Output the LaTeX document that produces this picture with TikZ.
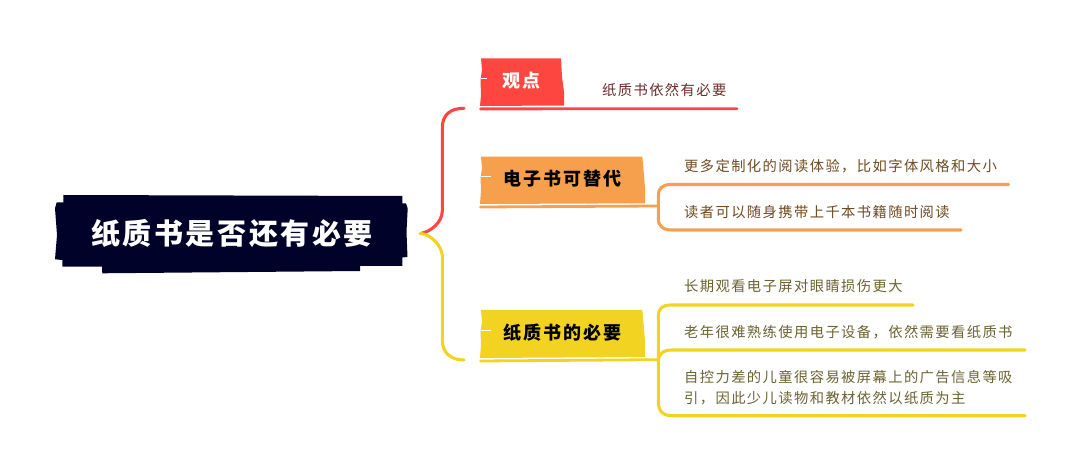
\documentclass[tikz,border=0pt]{standalone}
\usepackage{fontspec}
\setmainfont{Noto Sans CJK SC}
\definecolor{cred}{HTML}{FD4640}
\definecolor{corange}{HTML}{F6A04D}
\definecolor{cyellow}{HTML}{F3D321}
\definecolor{cnavy}{HTML}{000229}
\definecolor{tred}{HTML}{6E2B2B}
\definecolor{torange}{HTML}{6F4A20}
\definecolor{tyellow}{HTML}{6B6232}
\tikzset{
  x=1pt,y=-1pt,
  stroke/.style={line width=3.1pt,line cap=round,line join=round},
  rootlabel/.style={inner sep=0pt,text=white,font=\fontsize{29}{29}\selectfont\bfseries\addfontfeature{LetterSpace=9}},
  topiclabel/.style={inner sep=0pt,font=\fontsize{18}{18}\selectfont\bfseries\addfontfeature{LetterSpace=10.5}},
  leaflabel/.style={inner sep=0pt,anchor=west,font=\fontsize{14.3}{21}\selectfont\addfontfeature{LetterSpace=9.8},align=left},
  nick/.style={white,line width=0.7pt},
}
\begin{document}
\begin{tikzpicture}
\useasboundingbox (0,0) rectangle (1080,473);
% connectors
\coordinate (hubR) at (421,233.5);
\coordinate (hubY) at (420,233.5);
\coordinate (redEnd) at (464,108.3);
\coordinate (yelEnd) at (464,360);
\draw[stroke,cred] (hubR) .. controls (432,231) and (442,222) .. (442.3,211) -- (442.3,128) .. controls (442.3,115) and (450,108.3) .. (redEnd);
\draw[stroke,cyellow] (hubY) .. controls (431,234) and (442,246) .. (442.3,256) -- (442.3,340) .. controls (442.3,352) and (450,360) .. (yelEnd);
% root shape
\fill[cnavy] (63.3,195) -- (402.3,196) -- (402.3,203.3) -- (406,203.3) -- (407.7,208.5) -- (406.5,232) -- (407.5,257) -- (402.3,257.5) -- (402.3,266) -- (360,266) -- (360,271) -- (102.3,273.3) -- (102,266.7) -- (62.3,266.7) -- (62.3,260) -- (55,259.3) -- (57,235) -- (55,208.3) -- (56.7,202.3) -- (63.3,202.3) -- cycle;
% red topic
\fill[cred] (481,58.3) -- (561,58.3) -- (562,77) -- (564,92) -- (564,105.5) -- (480,106) -- (481,95) -- (480.5,80) -- (482,70) -- cycle;
\draw[stroke,cred,line width=2.8pt] (480.5,108.9) -- (737,108.7);
\draw[nick] (481,78.5) -- (487,78.5);
\draw[nick] (481,106.4) -- (559,106.4);
% orange topic
\fill[corange] (481,156.7) -- (642.3,156.7) -- (644,175) -- (645,188) -- (645,203.3) -- (480,204) -- (481,190) -- (480.5,178) -- (482,168) -- cycle;
\draw[nick] (481,176.5) -- (491,176.5);
\coordinate (orHub) at (657,206);
\draw[stroke,corange,line width=2.8pt] (480.5,207) -- (orHub);
\draw[stroke,corange] (1008.5,184.5) -- (671,184.5) .. controls (662,184.5) and (658,189) .. (658.3,196) -- (658.3,218) .. controls (658,226) and (663,230) .. (672,230) -- (961,230);
% yellow topic
\fill[cyellow] (481,310) -- (642.3,310) -- (644,328) -- (645,342) -- (645,357) -- (480,358) -- (481,344) -- (480.5,332) -- (482,322) -- cycle;
\draw[nick] (481,330) -- (491,330);
\coordinate (yeHub) at (657,359.7);
\draw[stroke,cyellow,line width=2.8pt] (480.5,361) -- (yeHub);
\draw[stroke,cyellow] (913,305) -- (671,305) .. controls (662,305) and (658.3,309) .. (658.3,316) -- (658.3,402) .. controls (658.3,411) and (663,415.7) .. (672,415.7) -- (1025,415.7);
\draw[stroke,cyellow] (658.3,362) .. controls (658.3,354) and (663,350) .. (672,350) -- (1025,350);
% labels
\node[rootlabel] (root) at (232,233.5) {纸质书是否还有必要};
\node[topiclabel,text=white] (t1) at (521.5,81) {观点};
\node[topiclabel,text=black] (t2) at (562.5,179) {电子书可替代};
\node[topiclabel,text=black] (t3) at (562.5,332.5) {纸质书的必要};
\node[leaflabel,text=tred] (a1) at (602,90) {纸质书依然有必要};
\node[leaflabel,text=torange] (b1) at (684,166) {更多定制化的阅读体验，比如字体风格和大小};
\node[leaflabel,text=torange] (b2) at (684,212) {读者可以随身携带上千本书籍随时阅读};
\node[leaflabel,text=tyellow] (c1) at (684,286.5) {长期观看电子屏对眼睛损伤更大};
\node[leaflabel,text=tyellow] (c2) at (684,332) {老年很难熟练使用电子设备，依然需要看纸质书};
\node[leaflabel,text=tyellow] (c3) at (684,387.5) {自控力差的儿童很容易被屏幕上的广告信息等吸\\引，因此少儿读物和教材依然以纸质为主};
\end{tikzpicture}
\end{document}
